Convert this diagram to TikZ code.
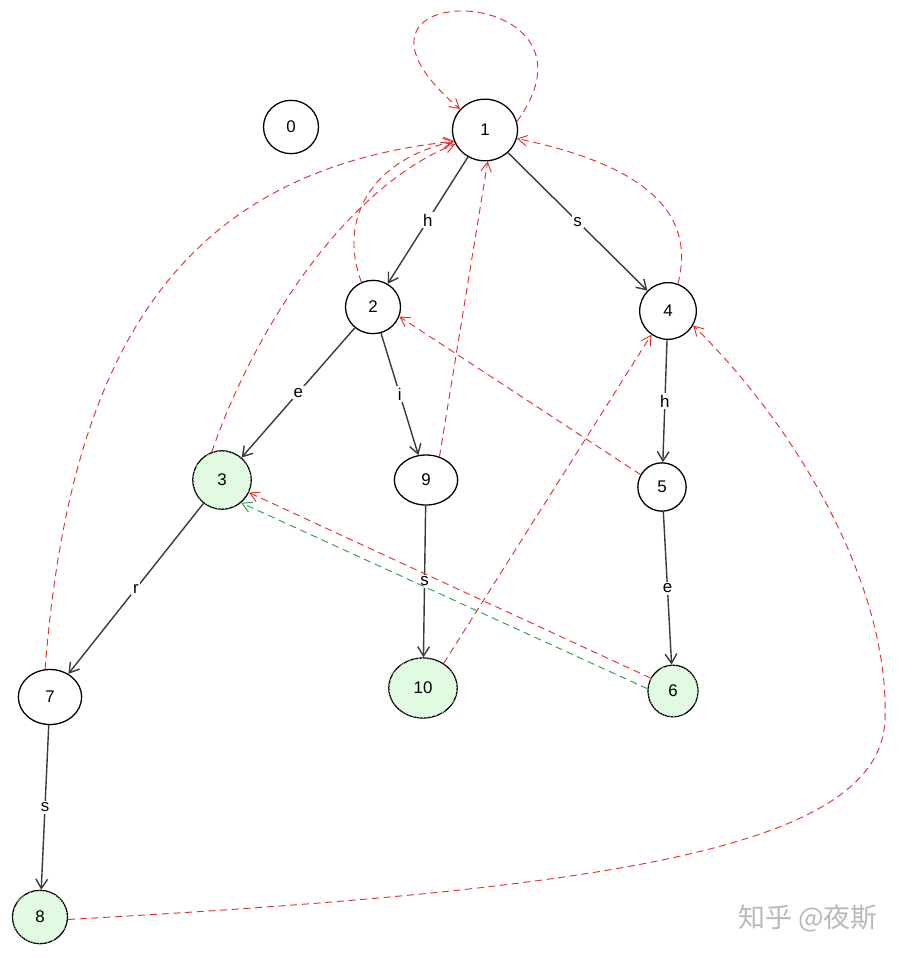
\documentclass[tikz,border=0pt]{standalone}
\usepackage{fontspec}
\setmainfont{Liberation Sans}
\newfontfamily\cjk{Noto Sans CJK SC}
\usetikzlibrary{arrows.meta, shapes.geometric, patterns}

\definecolor{failred}{HTML}{E03131}
\definecolor{outgreen}{HTML}{2F9E44}
\definecolor{leafgreen}{HTML}{EEF9EF}
\definecolor{edgegray}{HTML}{3A3A3A}

\begin{document}
\begin{tikzpicture}[x=0.03cm, y=-0.03cm, font=\Large,
    	main/.style = {draw, ellipse, line width=1.1pt, minimum width=1.65cm, minimum height=1.6cm, inner sep=0pt},
    	leaf/.style = {main, fill=leafgreen, postaction={pattern=north east lines, pattern color=green!25}},
    	edge/.style = {line width=1.2pt, draw=edgegray, arrows = {-Straight Barb[width=10pt, length=8pt]}},
    	fail/.style = {line width=0.8pt, draw=failred, dash pattern=on 6pt off 4pt, arrows = {-Straight Barb[width=9pt, length=8pt]}},
    	output/.style = {fail, draw=outgreen},
    	lbl/.style = {fill=white, inner sep=1.5pt}]
    	\useasboundingbox (0,0) rectangle (902,958);
    	% trie nodes
    	\node[main] (0) at (291,127) {0};
    	\node[main, minimum width=1.95cm, minimum height=1.85cm] (1) at (485,130) {1};
    	\node[main] (2) at (373,307) {2};
    	\node[main, minimum width=1.7cm, minimum height=1.7cm] (4) at (668,311) {4};
    	\node[leaf, minimum width=1.75cm, minimum height=1.75cm] (3) at (222,480) {3};
    	\node[main, minimum width=1.9cm, minimum height=1.5cm] (9) at (426,480) {9};
    	\node[main, minimum width=1.45cm, minimum height=1.45cm] (5) at (662,487) {5};
    	\node[main, minimum width=1.9cm, minimum height=1.65cm] (7) at (50,697) {7};
    	\node[leaf, minimum width=2.05cm, minimum height=1.8cm] (10) at (423,688) {10};
    	\node[leaf, minimum width=1.5cm, minimum height=1.55cm] (6) at (673,691) {6};
    	\node[leaf] (8) at (40,917) {8};
    	% goto edges
    	\draw[edge] (1) -- node[lbl] (l12) {h} (2);
    	\draw[edge] (1) -- node[lbl] (l14) {s} (4);
    	\draw[edge] (2) -- node[lbl] (l23) {e} (3);
    	\draw[edge] (2) -- node[lbl] (l29) {i} (9);
    	\draw[edge] (4) -- node[lbl] (l45) {h} (5);
    	\draw[edge] (3) -- node[lbl] (l37) {r} (7);
    	\draw[edge] (9) -- node[lbl] (l910) {s} (10);
    	\draw[edge] (5) -- node[lbl] (l56) {e} (6);
    	\draw[edge] (7) -- node[lbl] (l78) {s} (8);
    	% fail links
    	\draw[fail] (1.15) .. controls (620,-20) and (300,-27) .. (1.140);
    	\draw[fail] (2.115) .. controls (338,220) and (370,160) .. (1.200);
    	\draw[fail] (3.110) .. controls (250,340) and (340,190) .. (1.205);
    	\draw[fail] (7.100) .. controls (70,350) and (180,170) .. (1.200);
    	\draw[fail] (9.60) -- (1.275);
    	\draw[fail] (4.70) .. controls (700,200) and (620,160) .. (1.-15);
    	\draw[fail] (5.150) -- (2.-20);
    	\draw[fail] (10.50) -- (4.235);
    	\draw[fail] (6.150) -- (3.-25);
    	\draw[output] (6.175) -- (3.-50);
    	\draw[fail] (8.-5) .. controls (600,890) and (880,850) .. (885,720) .. controls (890,580) and (790,420) .. (4.-30);
    	% watermark
    	\node[text=gray!55, font=\cjk\fontsize{23}{27}\selectfont] (wm) at (808,918) {知乎 @夜斯};
    \end{tikzpicture}
\end{document}
